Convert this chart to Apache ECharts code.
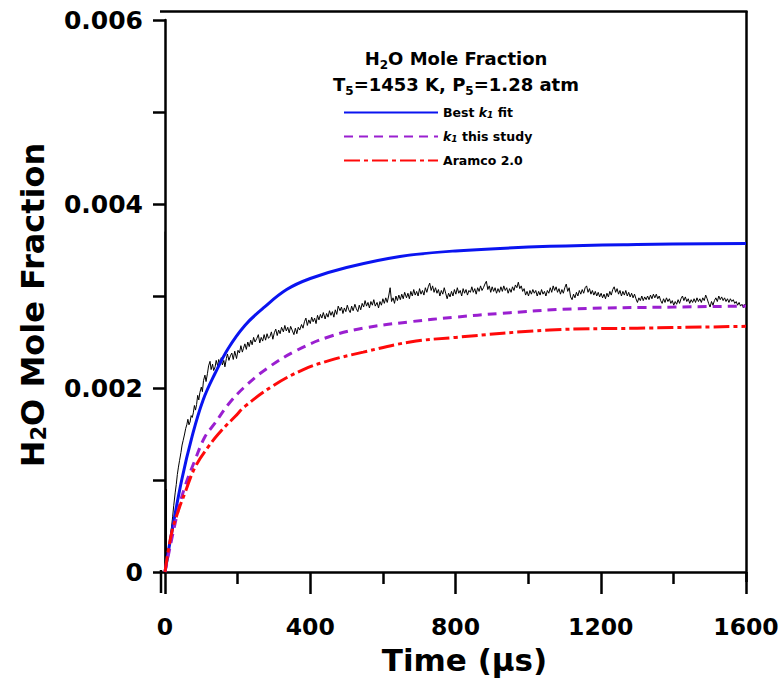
<!DOCTYPE html>
<html><head><meta charset="utf-8">
<script src="https://cdn.jsdelivr.net/npm/echarts@6/dist/echarts.min.js"></script>
<style>html,body{margin:0;padding:0;background:#fff}#c{width:779px;height:683px}</style>
</head><body><div id="c"></div>
<script>
// ---- data ----
const xTicks = [0, 400, 800, 1200, 1600];
const yTicks = [0, 0.002, 0.004, 0.006];
const seriesNames = ['Best k1 fit', 'k1 this study', 'Aramco 2.0'];

const bestFit = [[0,0],[14,0.00033],[46,0.001],[75,0.00148],[105,0.00187],[138,0.00216],[174,0.00243],[220,0.00268],[271,0.00287],[335,0.00307],[400,0.00319],[500,0.00331],[647,0.00343],[800,0.00349],[1060,0.00354],[1300,0.00356],[1600,0.00357]];
const thisStudy = [[0,0],[32,0.0006],[55,0.00093],[83,0.00122],[110,0.00147],[138,0.00162],[174,0.00182],[216,0.002],[280,0.00221],[363,0.00241],[454,0.00256],[546,0.00265],[675,0.00272],[800,0.00277],[922,0.00281],[1124,0.00286],[1400,0.00288],[1600,0.00289]];
const aramco = [[0,0],[18,0.00042],[37,0.00067],[55,0.00086],[83,0.00114],[119,0.00136],[156,0.00154],[193,0.00169],[220,0.0018],[300,0.00203],[381,0.0022],[454,0.0023],[546,0.00239],[675,0.0025],[800,0.00255],[1060,0.00263],[1300,0.00265],[1600,0.00267]];

const measured = [[0,0.0037],[0.6,0.00005],[1.5,0.00118],[2.5,0.0003],[3.2,0.0009],[4,0.0001],[5,0.0002],[7,0.0001],[9,0.00017],[12,0.00028],[15,0.0004],[18,0.00049],[21,0.0006],[24,0.00072],[28,0.00086],[31,0.00095],[34,0.00106],[37,0.00114],[40,0.00121],[44,0.0013],[47,0.00138],[50,0.00143],[54,0.0015],[57,0.00156],[60,0.0016],[63,0.00166],[66,0.0016],[69,0.00163],[72,0.0017],[75,0.00168],[78,0.00173],[81,0.00181],[84,0.00176],[87,0.00182],[90,0.00192],[93,0.00187],[96,0.00195],[100,0.00201],[103,0.00196],[106,0.00208],[110,0.00214],[113,0.00207],[117,0.00216],[120,0.00224],[124,0.00229],[127,0.0022],[131,0.00226],[134,0.00219],[138,0.00223],[141,0.0023],[145,0.00224],[148,0.00231],[151,0.00227],[155,0.00233],[158,0.00225],[162,0.0023],[165,0.00223],[169,0.00232],[172,0.00237],[176,0.0023],[180,0.00235],[184,0.00238],[188,0.00231],[192,0.0024],[197,0.00232],[201,0.00241],[205,0.00238],[209,0.00246],[213,0.00239],[216,0.00243],[220,0.00248],[224,0.00242],[228,0.0025],[232,0.00245],[236,0.00252],[240,0.00247],[244,0.00255],[248,0.0025],[253,0.00254],[257,0.00258],[261,0.00249],[265,0.00255],[269,0.00251],[273,0.00258],[277,0.00252],[281,0.00259],[285,0.00254],[289,0.00256],[293,0.00261],[297,0.00253],[301,0.0026],[305,0.00264],[309,0.00257],[313,0.00263],[317,0.00259],[321,0.00266],[326,0.00261],[330,0.00268],[334,0.00262],[338,0.00266],[342,0.0026],[346,0.00267],[350,0.00263],[355,0.00258],[359,0.00265],[363,0.00259],[367,0.00266],[371,0.00263],[376,0.00269],[380,0.00265],[384,0.00272],[388,0.00276],[392,0.00268],[396,0.00274],[400,0.0027],[404,0.00277],[408,0.00272],[412,0.00276],[416,0.0027],[420,0.00279],[424,0.00274],[428,0.0028],[432,0.00276],[436,0.00282],[441,0.00275],[445,0.00281],[449,0.00277],[453,0.00284],[457,0.00279],[461,0.00283],[465,0.00277],[469,0.00285],[473,0.0028],[477,0.00289],[482,0.00284],[486,0.00288],[490,0.00281],[494,0.00287],[498,0.00283],[502,0.0029],[506,0.00285],[510,0.00282],[514,0.00289],[518,0.00284],[523,0.00291],[527,0.00286],[531,0.00283],[535,0.0029],[539,0.00285],[543,0.00292],[547,0.00288],[551,0.00295],[555,0.00289],[559,0.00293],[563,0.00287],[567,0.00294],[571,0.0029],[575,0.00296],[579,0.00289],[584,0.00293],[588,0.00287],[592,0.00294],[596,0.0029],[600,0.00297],[604,0.00292],[608,0.00298],[612,0.00293],[616,0.003],[620,0.00309],[624,0.00294],[628,0.00298],[632,0.00292],[636,0.003],[640,0.00295],[644,0.00301],[648,0.00296],[652,0.00302],[656,0.00297],[660,0.00304],[665,0.00298],[669,0.00303],[673,0.00297],[677,0.00305],[681,0.003],[685,0.00307],[689,0.00301],[693,0.00305],[697,0.003],[701,0.00308],[705,0.00302],[709,0.00306],[713,0.00301],[717,0.00309],[721,0.00304],[725,0.0031],[729,0.00314],[733,0.00306],[737,0.00311],[741,0.00304],[745,0.00309],[749,0.00303],[753,0.00307],[757,0.003],[761,0.00306],[765,0.00302],[769,0.00309],[773,0.00303],[777,0.00297],[781,0.00303],[785,0.00299],[789,0.00305],[793,0.003],[797,0.00307],[801,0.00302],[805,0.00309],[809,0.00303],[813,0.00306],[817,0.003],[821,0.00308],[825,0.00303],[829,0.00307],[833,0.00301],[837,0.00306],[841,0.00304],[845,0.0031],[849,0.00304],[853,0.00308],[857,0.00302],[861,0.00309],[865,0.00305],[869,0.00311],[873,0.00306],[877,0.00309],[881,0.00313],[885,0.00316],[889,0.00307],[893,0.00311],[897,0.00304],[901,0.0031],[905,0.00305],[909,0.00309],[913,0.00303],[917,0.00308],[921,0.00304],[925,0.0031],[929,0.00305],[933,0.00311],[937,0.00306],[941,0.00309],[945,0.00303],[949,0.00308],[953,0.00304],[957,0.0031],[961,0.00306],[965,0.00312],[969,0.00309],[973,0.00315],[977,0.00308],[981,0.00311],[985,0.00305],[989,0.00308],[993,0.00301],[997,0.00305],[1001,0.003],[1005,0.00306],[1009,0.00302],[1013,0.00307],[1017,0.00303],[1021,0.00306],[1025,0.003],[1029,0.00305],[1033,0.00301],[1037,0.00307],[1041,0.00302],[1045,0.00305],[1049,0.003],[1053,0.00306],[1057,0.00303],[1061,0.00309],[1065,0.00304],[1069,0.00311],[1073,0.00306],[1077,0.0031],[1081,0.00304],[1085,0.00308],[1089,0.00302],[1093,0.00307],[1097,0.00303],[1101,0.00309],[1105,0.00313],[1109,0.00305],[1113,0.00309],[1117,0.00299],[1121,0.00296],[1125,0.00302],[1129,0.00298],[1133,0.00304],[1137,0.003],[1141,0.00306],[1145,0.00302],[1149,0.00307],[1153,0.00303],[1157,0.00309],[1161,0.00311],[1165,0.00304],[1169,0.00308],[1173,0.00302],[1177,0.00306],[1181,0.00301],[1185,0.00305],[1189,0.003],[1193,0.00304],[1197,0.00299],[1201,0.00303],[1205,0.00298],[1209,0.00302],[1213,0.00297],[1217,0.00303],[1221,0.00299],[1225,0.00305],[1229,0.00301],[1233,0.00307],[1237,0.0031],[1241,0.00304],[1245,0.00308],[1249,0.00302],[1253,0.00306],[1257,0.003],[1261,0.00305],[1265,0.00301],[1269,0.00306],[1273,0.003],[1277,0.00304],[1281,0.00299],[1285,0.00303],[1289,0.00298],[1293,0.00302],[1297,0.00297],[1301,0.00293],[1305,0.00298],[1309,0.00295],[1313,0.003],[1317,0.00295],[1321,0.00299],[1325,0.00296],[1329,0.003],[1333,0.00296],[1337,0.00301],[1341,0.00297],[1345,0.00302],[1349,0.00298],[1353,0.00302],[1357,0.00297],[1361,0.003],[1365,0.00295],[1369,0.00292],[1373,0.00297],[1377,0.00293],[1381,0.00298],[1385,0.00294],[1389,0.00297],[1393,0.00292],[1397,0.00295],[1401,0.0029],[1405,0.00294],[1409,0.00291],[1413,0.00296],[1417,0.00292],[1421,0.00297],[1425,0.003],[1429,0.00295],[1433,0.00299],[1437,0.00294],[1441,0.00297],[1445,0.00292],[1449,0.00296],[1453,0.00293],[1457,0.00297],[1461,0.00293],[1465,0.00298],[1469,0.00294],[1473,0.00297],[1477,0.00293],[1481,0.00298],[1485,0.00295],[1489,0.00301],[1493,0.00297],[1497,0.00292],[1501,0.00288],[1505,0.00294],[1509,0.0029],[1513,0.00295],[1517,0.00298],[1521,0.00294],[1525,0.003],[1529,0.00296],[1533,0.00299],[1537,0.00295],[1541,0.00298],[1545,0.00294],[1549,0.00297],[1553,0.00293],[1557,0.00297],[1561,0.00294],[1565,0.00296],[1569,0.00292],[1573,0.00294],[1577,0.0029],[1581,0.00293],[1585,0.00289],[1589,0.00291],[1593,0.00287],[1597,0.00291],[1600,0.00289]];

// ---- chart ----
const FONT = 'DejaVu Sans';
const chart = echarts.init(document.getElementById('c'), null, {renderer: 'svg'});
const subRich = {
  b: {fontFamily: FONT, fontWeight: 'bold', fontSize: 18, lineHeight: 26, color: '#000'},
  s: {fontFamily: FONT, fontWeight: 'bold', fontSize: 12, lineHeight: 12, verticalAlign: 'bottom', color: '#000'}
};
chart.setOption({
  animation: false,
  backgroundColor: '#fff',
  title: {
    text: '{b|H}{s|2}{b|O Mole Fraction}\n{b|T}{s|5}{b|=1453 K, P}{s|5}{b|=1.28 atm}',
    left: 456, top: 45, textAlign: 'center', padding: 0,
    textStyle: {rich: subRich, fontFamily: FONT, fontWeight: 'bold', fontSize: 18}
  },
  legend: {
    data: seriesNames,
    orient: 'vertical', left: 343, top: 106, padding: 0,
    itemWidth: 94, itemHeight: 14, itemGap: 11,
    itemStyle: {opacity: 0},
    formatter: function (n) {
      if (n === 'Best k1 fit') return 'Best {i|k}{s|1} fit';
      if (n === 'k1 this study') return '{i|k}{s|1} this study';
      return n;
    },
    textStyle: {
      fontFamily: FONT, fontWeight: 'bold', fontSize: 12.5, color: '#000',
      rich: {
        i: {fontFamily: FONT, fontWeight: 'bold', fontStyle: 'italic', fontSize: 12.5, color: '#000'},
        s: {fontFamily: FONT, fontWeight: 'bold', fontStyle: 'italic', fontSize: 9, verticalAlign: 'bottom', lineHeight: 9, color: '#000'}
      }
    }
  },
  grid: {left: 165, right: 33, top: 20, bottom: 111, containLabel: false, outerBoundsMode: 'none'},
  xAxis: {
    type: 'value', min: 0, max: 1600, interval: 400, offset: 9,
    name: 'Time (\u03bcs)', nameLocation: 'middle', nameGap: 63,
    nameTextStyle: {fontFamily: FONT, fontWeight: 'bold', fontSize: 31, color: '#000', padding: [0, 0, 0, 18]},
    axisLine: {show: true, lineStyle: {color: '#000', width: 2.5}},
    axisTick: {show: true, length: 22, lineStyle: {color: '#000', width: 2.5}},
    minorTick: {show: true, splitNumber: 2, length: 12, lineStyle: {color: '#000', width: 2.5}},
    axisLabel: {margin: 34, fontFamily: FONT, fontWeight: 'bold', fontSize: 23.5, color: '#000',
      hideOverlap: false, formatter: v => String(v)},
    splitLine: {show: false}, minorSplitLine: {show: false}
  },
  yAxis: {
    type: 'value', min: 0, max: 0.006, interval: 0.002, offset: 4,
    name: '{b|H}{s|2}{b|O Mole Fraction}', nameLocation: 'middle', nameGap: 112, nameRotate: 90,
    nameTextStyle: {fontFamily: FONT, fontWeight: 'bold', fontSize: 32, color: '#000', padding: [0, 18, 0, 0],
      rich: {
        b: {fontFamily: FONT, fontWeight: 'bold', fontSize: 32, color: '#000'},
        s: {fontFamily: FONT, fontWeight: 'bold', fontSize: 21, verticalAlign: 'bottom', lineHeight: 21, color: '#000'}
      }},
    axisLine: {show: true, lineStyle: {color: '#000', width: 2.5}},
    axisTick: {show: true, length: 12, lineStyle: {color: '#000', width: 2.5}},
    minorTick: {show: true, splitNumber: 2, length: 12, lineStyle: {color: '#000', width: 2.5}},
    axisLabel: {margin: 18, fontFamily: FONT, fontWeight: 'bold', fontSize: 25, color: '#000',
      formatter: v => (v === 0 ? '0' : v.toFixed(3))},
    splitLine: {show: false}, minorSplitLine: {show: false}
  },
  graphic: [
    {type: 'line', shape: {x1: 160, y1: 11.5, x2: 747.5, y2: 11.5}, style: {stroke: '#000', lineWidth: 2.5}, silent: true},
    {type: 'line', shape: {x1: 746.5, y1: 11, x2: 746.5, y2: 582}, style: {stroke: '#000', lineWidth: 2.5}, silent: true},
    {type: 'line', shape: {x1: 161, y1: 570, x2: 161, y2: 593}, style: {stroke: '#000', lineWidth: 2.5}, silent: true}
  ],
  series: [
    {name: 'measured', type: 'line', data: measured, showSymbol: false, symbol: 'none',
      lineStyle: {color: '#000', width: 1}, z: 1},
    {name: seriesNames[0], type: 'line', data: bestFit, smooth: 0.4, showSymbol: false, symbol: 'none',
      itemStyle: {color: '#0a14f0'}, lineStyle: {color: '#0a14f0', width: 3}, z: 3},
    {name: seriesNames[1], type: 'line', data: thisStudy, smooth: 0.4, showSymbol: false, symbol: 'none',
      itemStyle: {color: '#9a1fd0'}, lineStyle: {color: '#9a1fd0', width: 3, type: [9, 6]}, z: 3},
    {name: seriesNames[2], type: 'line', data: aramco, smooth: 0.4, showSymbol: false, symbol: 'none',
      itemStyle: {color: '#ff0a0a'}, lineStyle: {color: '#ff0a0a', width: 3, type: [16, 4, 4, 4]}, z: 3}
  ]
});
</script></body></html>
